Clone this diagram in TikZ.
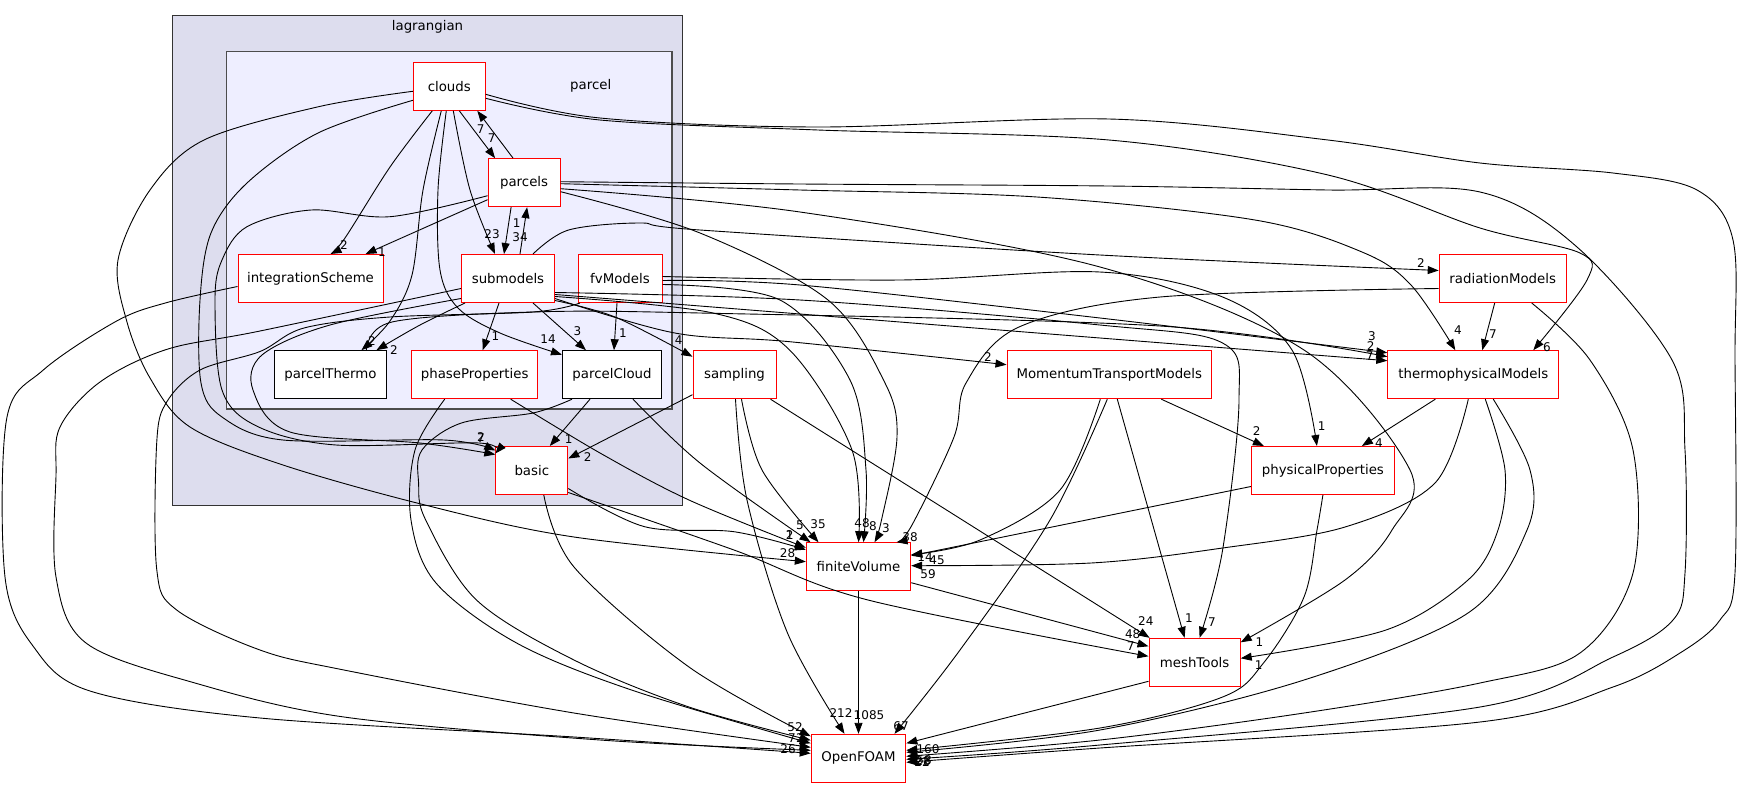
\documentclass[tikz,border=0pt]{standalone}
\usepackage{fontspec}
\setmainfont{DejaVu Sans}
\usetikzlibrary{arrows.meta}
\newcommand{\dirfont}{\fontsize{13.33}{16}\selectfont}
\newcommand{\edgefont}{\fontsize{12}{14}\selectfont}
\definecolor{outerfill}{HTML}{DDDDEE}
\definecolor{innerfill}{HTML}{EEEEFF}
\definecolor{dirred}{HTML}{FF0000}

\begin{document}
\begin{tikzpicture}[x=1pt, y=-1pt,
  dirbox/.style={draw=dirred, line width=1pt, fill=white, minimum height=48pt, inner sep=0pt, font=\dirfont},
  leafbox/.style={dirbox, draw=black},
  dep/.style={-{Triangle[length=11pt,width=8pt]}, line width=0.9pt},
  lab/.style={font=\edgefont, inner sep=0pt},
  curve/.style={smooth, tension=0.55}]
\useasboundingbox (0,0) rectangle (1741,788);

\draw[fill=outerfill, draw=black!80, line width=1pt] (172.9,15.3) rectangle (682.5,505);
\node[font=\dirfont] (lagrangianname) at (427.5,27) {lagrangian};
\draw[fill=innerfill, draw=black!70, line width=1.5pt] (226.4,51.7) rectangle (672,409);
\node[font=\dirfont] (parcelname) at (590.7,86) {parcel};

\node[dirbox, minimum width=72pt] (clouds) at (449.3,86.3) {clouds};
\node[dirbox, minimum width=72pt] (parcels) at (524.1,182.7) {parcels};
\node[dirbox, minimum width=145pt] (intscheme) at (310.5,278.5) {integrationScheme};
\node[dirbox, minimum width=93pt] (submodels) at (508,278.5) {submodels};
\node[dirbox, minimum width=84pt] (fvmodels) at (620,278.5) {fvModels};
\node[leafbox, minimum width=112pt] (pthermo) at (330.4,374.7) {parcelThermo};
\node[dirbox, minimum width=126.5pt] (phaseprops) at (474.7,374.7) {phaseProperties};
\node[leafbox, minimum width=99pt] (pcloud) at (612,374.7) {parcelCloud};
\node[dirbox, minimum width=72pt] (basic) at (531.8,470.5) {basic};
\node[dirbox, minimum width=83pt] (sampling) at (734.5,374.7) {sampling};
\node[dirbox, minimum width=204.6pt] (mtm) at (1109.3,374.7) {MomentumTransportModels};
\node[dirbox, minimum width=127pt] (radiation) at (1502.7,278.5) {radiationModels};
\node[dirbox, minimum width=171pt] (thermo) at (1473.3,374.7) {thermophysicalModels};
\node[dirbox, minimum width=143pt] (physprops) at (1322.9,470.5) {physicalProperties};
\node[dirbox, minimum width=104.4pt] (finitevol) at (858.5,566.7) {finiteVolume};
\node[dirbox, minimum width=91.2pt] (meshtools) at (1194.6,662.3) {meshTools};
\node[dirbox, minimum width=94.6pt] (openfoam) at (858.5,758.3) {OpenFOAM};

\draw[dep] plot[curve] coordinates {([xshift=-17pt]clouds.south) (390,167) (345,238) ([xshift=20pt]intscheme.north)};
\draw[dep] ([xshift=10pt]clouds.south) -- ([xshift=-29pt]parcels.north);
\draw[dep] ([xshift=-11pt]parcels.north) -- ([xshift=28pt]clouds.south);
\draw[dep] plot[curve] coordinates {([xshift=4pt]clouds.south) (470,190) ([xshift=-13pt]submodels.north)};
\draw[dep] plot[curve] coordinates {([xshift=-8pt]clouds.south) (423,190) (412,275) (390,321) ([xshift=31pt]pthermo.north)};
\draw[dep] plot[curve] coordinates {([xshift=-3pt]clouds.south) (438,190) (440,270) (458,308) (500,333) ([yshift=20pt]pcloud.west)};
\draw[dep] plot[curve] coordinates {([yshift=-14pt]clouds.west) (318,133) (247,183) (211,233) (200,300) (201,383) (222,417) (283,440) (444,440) ([yshift=20pt]basic.west)};
\draw[dep] plot[curve] coordinates {([yshift=-5pt]clouds.west) (318.6,106.7) (204,140) (150,190) (118,260) (126.7,321) (150,378) (190,427) (283,465) (425,505) (574,537) ([yshift=5pt]finitevol.west)};
\draw[dep] plot[curve] coordinates {([yshift=-12pt]clouds.east) (600,120) (818,130) (1109,140) (1328,175) (1480,228) (1580,253) (1587,280) ([xshift=60pt]thermo.north)};
\draw[dep] plot[curve] coordinates {([yshift=-8pt]clouds.east) (600,118) (818,127) (1109,119) (1328,140) (1480,163) (1613,173) (1697,190) (1733,240) (1735,360) (1735,573) (1720,620) (1680,653) (1613,687) (1480,722) (1100,748) ([yshift=-4pt]openfoam.east)};

\draw[dep] ([yshift=-17pt]parcels.west) -- ([xshift=55pt]intscheme.north);
\draw[dep] ([xshift=-13pt]parcels.south) -- ([xshift=-4pt]submodels.north);
\draw[dep] ([xshift=12pt]submodels.north) -- ([xshift=3pt]parcels.south);
\draw[dep] plot[curve] coordinates {([yshift=-13pt]parcels.west) (390,216.7) (311,210) (247,226.7) (222,260) (215,300) (222,390) (258,426.7) (336,445) (479,443) ([yshift=17pt]basic.west)};
\draw[dep] plot[curve] coordinates {([yshift=-9pt]parcels.east) (700,233) (828,300) (885,383) (897,437) (881.5,520) ([xshift=16pt]finitevol.north)};
\draw[dep] plot[curve] coordinates {([yshift=-1pt]parcels.east) (800,190) (1037,197) (1255,220) (1362,252) (1411,285) ([xshift=-18pt]thermo.north)};
\draw[dep] plot[curve] coordinates {([yshift=-6pt]parcels.east) (800,212) (1100,267) (1304,350) (1410,470) (1392,530) (1345,580) ([yshift=20pt]meshtools.east)};
\draw[dep] plot[curve] coordinates {([yshift=1pt]parcels.east) (800,184) (1109,186) (1328,190) (1480,192) (1577,247) (1672,360) (1685,450) (1685,573) (1673,620) (1613,657) (1480,707) (1100,745) ([yshift=-1pt]openfoam.east)};

\draw[dep] plot[curve] coordinates {([yshift=-8pt]intscheme.west) (166.7,302.6) (116.7,321) (43.3,370) (6.7,418.6) (5,577) (33,646) (90,691) (260,718) (574,737) ([yshift=5pt]openfoam.west)};

\draw[dep] plot[curve] coordinates {([xshift=-43pt]submodels.south) (420,325) ([xshift=46pt]pthermo.north)};
\draw[dep] ([xshift=-9pt]submodels.south) -- ([xshift=8pt]phaseprops.north);
\draw[dep] ([xshift=25pt]submodels.south) -- ([xshift=-26pt]pcloud.north);
\draw[dep] plot[curve] coordinates {([yshift=-22pt]submodels.east) (615,317) ([yshift=18pt]sampling.west)};
\draw[dep] plot[curve] coordinates {([yshift=-18pt]submodels.east) (713,313) (789.6,350) (852,450) (finitevol.north)};
\draw[dep] plot[curve] coordinates {([yshift=-20pt]submodels.east) (674.8,333) (789.6,341.7) ([yshift=10pt]mtm.west)};
\draw[dep] plot[curve] coordinates {([yshift=-16pt]submodels.east) (700,306) (1100,338) ([yshift=14pt]thermo.west)};
\draw[dep] plot[curve] coordinates {([yshift=-14pt]submodels.east) (800,300) (1100,325) (1222.6,343) (1239,400) (1222.6,550) ([xshift=5pt]meshtools.north)};
\draw[dep] plot[curve] coordinates {([xshift=25pt]submodels.north) (568.6,230) (640,223) (700,230) (1100,255) ([yshift=8pt]radiation.west)};
\draw[dep] plot[curve] coordinates {([yshift=-20pt]submodels.west) (330,325) (262,355) (253,390) (290,432) (420,443) ([yshift=16pt]basic.west)};
\draw[dep] plot[curve] coordinates {([yshift=-10pt]submodels.west) (260,331) (166.7,349.4) (100,382) (60,427) (56,476) (56,577) (86,643) (195,683) (344,717) (600,740) ([yshift=8pt]openfoam.west)};

\draw[dep] ([xshift=-3pt]fvmodels.south) -- ([xshift=2pt]pcloud.north);
\draw[dep] plot[curve] coordinates {([yshift=-6pt]fvmodels.east) (780,300) (850,380) (866,470) ([xshift=5pt]finitevol.north)};
\draw[dep] plot[curve] coordinates {([yshift=-2pt]fvmodels.east) (800,285) (1100,318) ([yshift=22pt]thermo.west)};
\draw[dep] plot[curve] coordinates {([yshift=2pt]fvmodels.east) (900,280) (1100,272) (1222.6,297) (1292,350) ([xshift=-6pt]physprops.north)};
\draw[dep] plot[curve] coordinates {([xshift=-40pt]fvmodels.south) (533,312) (390,317) (304,328) (260,351.5) (200,370) (166.7,402) (156.7,443) (156.7,569) (176.7,610) (260,650) (344,670) (574,713) ([yshift=11pt]openfoam.west)};

\draw[dep] plot[curve] coordinates {([xshift=36pt]pthermo.north) (392,322) (533,312) (700,313) (1160,326) ([yshift=18pt]thermo.west)};

\draw[dep] plot[curve] coordinates {([xshift=36pt]phaseprops.south) (600,453) (689,500) ([yshift=19pt]finitevol.west)};
\draw[dep] plot[curve] coordinates {([xshift=-30pt]phaseprops.south) (415,450) (411,520) (436,583) (516.6,643) (631.5,690) ([yshift=15pt]openfoam.west)};

\draw[dep] ([xshift=-22pt]pcloud.south) -- ([xshift=18pt]basic.north);
\draw[dep] plot[curve] coordinates {([xshift=21pt]pcloud.south) (700,463) ([xshift=-48pt]finitevol.north)};
\draw[dep] plot[curve] coordinates {([xshift=-40pt]pcloud.south) (533,413) (461.4,423) (422,450) (418.6,483) (425.7,520) (476.5,600) (574,660) (689,707) ([yshift=18pt]openfoam.west)};

\draw[dep] plot[curve] coordinates {([yshift=-18pt]basic.east) (644.6,526.7) (734,531.7) ([yshift=17pt]finitevol.west)};
\draw[dep] plot[curve] coordinates {([yshift=-22pt]basic.east) (734,550) (868,600) ([yshift=6pt]meshtools.west)};
\draw[dep] plot[curve] coordinates {([xshift=12pt]basic.south) (574,567) (689,667) ([yshift=22pt]openfoam.west)};

\draw[dep] ([yshift=-20pt]sampling.west) -- ([yshift=12pt]basic.east);
\draw[dep] plot[curve] coordinates {([xshift=7pt]sampling.south) (762,470) ([xshift=-40pt]finitevol.north)};
\draw[dep] plot[curve] coordinates {([xshift=1pt]sampling.south) (747,500) (787.5,633) ([xshift=-14pt]openfoam.north)};
\draw[dep] ([xshift=36pt]sampling.south) -- ([xshift=-45pt]meshtools.north);

\draw[dep] ([xshift=52pt]mtm.south) -- ([xshift=-59pt]physprops.north);
\draw[dep] plot[curve] coordinates {([xshift=-9pt]mtm.south) (1060,490) (980,540) ([yshift=12pt]finitevol.east)};
\draw[dep] ([xshift=8pt]mtm.south) -- ([xshift=-10pt]meshtools.north);
\draw[dep] plot[curve] coordinates {([xshift=-2pt]mtm.south) (1050,520) (960,650) ([xshift=36pt]openfoam.north)};

\draw[dep] ([xshift=-8pt]radiation.south) -- ([xshift=9pt]thermo.north);
\draw[dep] plot[curve] coordinates {([yshift=-10pt]radiation.west) (1160,297) (1019,327) (966,383) (954,437) (912,525) ([xshift=38pt]finitevol.north)};
\draw[dep] plot[curve] coordinates {([xshift=29pt]radiation.south) (1590,360) (1633,450) (1633,573) (1580,653) (1480,683) (1304,713) (1100,740) ([yshift=2pt]openfoam.east)};

\draw[dep] ([xshift=-38pt]thermo.south) -- ([xshift=39pt]physprops.north);
\draw[dep] plot[curve] coordinates {([xshift=-5pt]thermo.south) (1435,483) (1345,527) (1222.6,548) (1091,563) ([yshift=1pt]finitevol.east)};
\draw[dep] plot[curve] coordinates {([xshift=12pt]thermo.south) (1505,470) (1498,530) (1468,580) (1386,630) ([yshift=4pt]meshtools.east)};
\draw[dep] plot[curve] coordinates {([xshift=20pt]thermo.south) (1530,470) (1527,530) (1468,613) (1304,680) (1100,730) ([yshift=6pt]openfoam.east)};

\draw[dep] ([yshift=-16pt]physprops.west) -- ([yshift=11pt]finitevol.east);
\draw[dep] plot[curve] coordinates {(physprops.south) (1317,530) (1304,597) (1263.5,663) (1222.6,697) (1100,728) ([yshift=8pt]openfoam.east)};

\draw[dep] ([yshift=-16pt]finitevol.east) -- ([yshift=16pt]meshtools.west);
\draw[dep] (finitevol.south) -- (openfoam.north);
\draw[dep] ([yshift=-19pt]meshtools.west) -- ([yshift=15pt]openfoam.east);

\node[lab] (l1) at (344,245) {2};
\node[lab] (l2) at (491.7,138.3) {7};
\node[lab] (l3) at (480.7,129.3) {7};
\node[lab] (l4) at (492,234) {23};
\node[lab] (l5) at (372,341) {2};
\node[lab] (l6) at (548,339) {14};
\node[lab] (l7) at (481,438.3) {7};
\node[lab] (l8) at (787.6,553) {28};
\node[lab] (l9) at (1547,347.3) {6};
\node[lab] (l10) at (382,252) {1};
\node[lab] (l11) at (520,236.7) {34};
\node[lab] (l12) at (516.8,222.7) {1};
\node[lab] (l13) at (481,437) {2};
\node[lab] (l14) at (886,528) {3};
\node[lab] (l15) at (1458,330) {4};
\node[lab] (l16) at (1259.4,641.7) {1};
\node[lab] (l17) at (394,350) {2};
\node[lab] (l18) at (495.4,336) {1};
\node[lab] (l19) at (577.5,330.7) {3};
\node[lab] (l20) at (678.6,340.5) {4};
\node[lab] (l21) at (862,523) {48};
\node[lab] (l22) at (988,357) {2};
\node[lab] (l23) at (1369.8,356) {7};
\node[lab] (l24) at (1212,621.7) {7};
\node[lab] (l25) at (1421,262.7) {2};
\node[lab] (l26) at (623,333) {1};
\node[lab] (l27) at (873,526) {8};
\node[lab] (l28) at (1371.9,336) {3};
\node[lab] (l29) at (1321.6,425.7) {1};
\node[lab] (l30) at (1370.6,346) {2};
\node[lab] (l31) at (789.7,535) {2};
\node[lab] (l32) at (568.6,439) {1};
\node[lab] (l33) at (800,525) {5};
\node[lab] (l34) at (789.7,535) {1};
\node[lab] (l35) at (1130.7,646.5) {7};
\node[lab] (l36) at (795,727.5) {52};
\node[lab] (l37) at (587.6,456.7) {2};
\node[lab] (l38) at (818,524) {35};
\node[lab] (l39) at (841,713) {212};
\node[lab] (l40) at (1145.8,620.7) {24};
\node[lab] (l41) at (1256.6,430.7) {2};
\node[lab] (l42) at (925,557) {14};
\node[lab] (l43) at (1189,618) {1};
\node[lab] (l44) at (901,726) {67};
\node[lab] (l45) at (1493,334) {7};
\node[lab] (l46) at (910,536.7) {38};
\node[lab] (l47) at (1379,442.7) {4};
\node[lab] (l48) at (928,574) {59};
\node[lab] (l49) at (1258.6,665) {1};
\node[lab] (l50) at (937,560) {45};
\node[lab] (l51) at (1132.7,634.5) {48};
\node[lab] (l52) at (869,715) {1085};
\node[lab] (l53) at (928,749) {160};
\node[lab] (l54) at (924,760) {58};
\node[lab] (l55) at (923,761) {28};
\node[lab] (l56) at (922,762) {22};
\node[lab] (l57) at (800,738) {2};
\node[lab] (l58) at (792,738) {7};
\node[lab] (l59) at (788,749) {26};
\end{tikzpicture}
\end{document}
